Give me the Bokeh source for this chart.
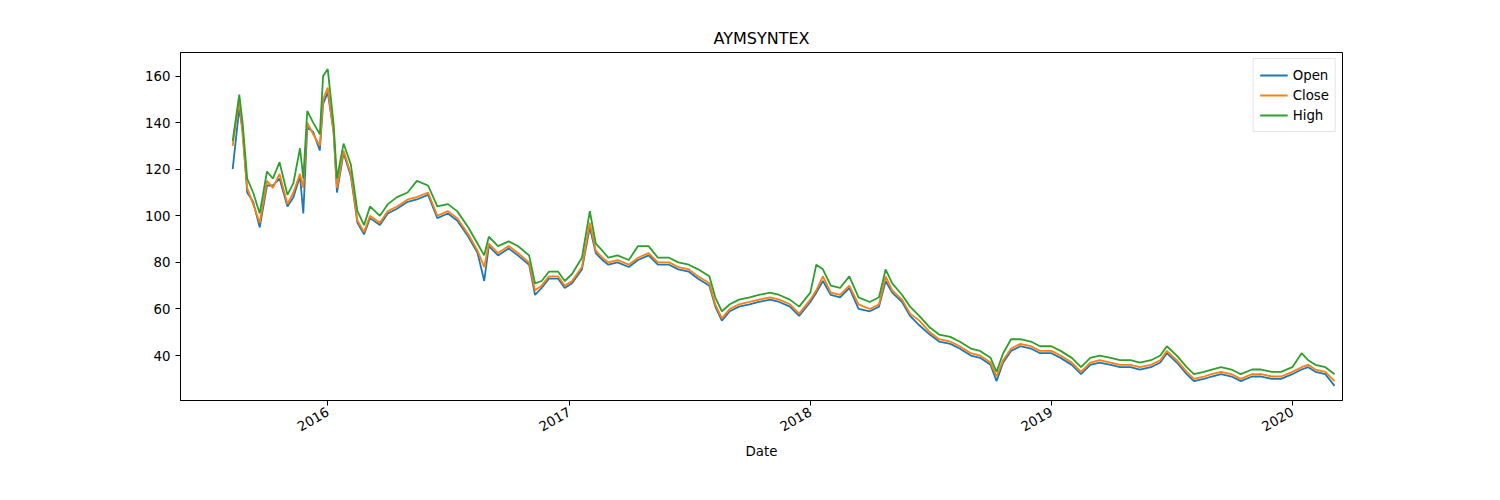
import pandas as pd
from bokeh.plotting import figure
from bokeh.models import FixedTicker, DatetimeTickFormatter, Range1d, Legend, LegendItem
from bokeh.embed import file_html
from bokeh.resources import INLINE

dates = [
    "2015-08-10", "2015-08-20", "2015-08-25", "2015-09-01", "2015-09-10", "2015-09-20", "2015-10-01", "2015-10-10", "2015-10-20", "2015-11-01",
    "2015-11-10", "2015-11-20", "2015-11-25", "2015-12-01", "2015-12-10", "2015-12-20", "2015-12-25", "2016-01-01", "2016-01-10", "2016-01-15",
    "2016-01-25", "2016-02-05", "2016-02-15", "2016-02-25", "2016-03-05", "2016-03-20", "2016-04-01", "2016-04-15", "2016-05-01", "2016-05-15",
    "2016-06-01", "2016-06-15", "2016-07-01", "2016-07-15", "2016-08-01", "2016-08-15", "2016-08-25", "2016-09-01", "2016-09-15", "2016-10-01",
    "2016-10-15", "2016-11-01", "2016-11-10", "2016-11-20", "2016-12-01", "2016-12-15", "2016-12-25", "2017-01-05", "2017-01-20", "2017-02-01",
    "2017-02-10", "2017-02-20", "2017-03-01", "2017-03-15", "2017-04-01", "2017-04-15", "2017-05-01", "2017-05-15", "2017-06-01", "2017-06-15",
    "2017-07-01", "2017-07-15", "2017-08-01", "2017-08-10", "2017-08-20", "2017-09-01", "2017-09-15", "2017-10-01", "2017-10-15", "2017-11-01",
    "2017-11-15", "2017-12-01", "2017-12-15", "2018-01-01", "2018-01-10", "2018-01-20", "2018-02-01", "2018-02-15", "2018-03-01", "2018-03-15",
    "2018-04-01", "2018-04-15", "2018-04-25", "2018-05-05", "2018-05-20", "2018-06-01", "2018-06-15", "2018-07-01", "2018-07-15", "2018-08-01",
    "2018-08-15", "2018-09-01", "2018-09-15", "2018-10-01", "2018-10-10", "2018-10-20", "2018-11-01", "2018-11-15", "2018-12-01", "2018-12-15",
    "2019-01-01", "2019-01-15", "2019-02-01", "2019-02-15", "2019-03-01", "2019-03-15", "2019-04-01", "2019-04-15", "2019-05-01", "2019-05-15",
    "2019-06-01", "2019-06-15", "2019-06-25", "2019-07-10", "2019-07-25", "2019-08-05", "2019-08-20", "2019-09-01", "2019-09-15", "2019-10-01",
    "2019-10-15", "2019-11-01", "2019-11-15", "2019-12-01", "2019-12-15", "2020-01-01", "2020-01-15", "2020-01-25", "2020-02-05", "2020-02-20",
    "2020-03-05",
]
close = [
    130, 150, 135, 112, 105, 97, 115, 112, 118, 105,
    110, 118, 112, 140, 135, 130, 150, 155, 135, 112,
    128, 118, 98, 93, 100, 97, 102, 104, 107, 108,
    110, 100, 102, 99, 92, 85, 78, 88, 84, 87,
    84, 80, 68, 70, 74, 74, 70, 72, 78, 97,
    85, 82, 80, 81, 79, 82, 84, 80, 80, 78,
    77, 74, 71, 62, 56, 60, 62, 63, 64, 65,
    64, 62, 58, 64, 68, 74, 67, 66, 70, 62,
    60, 62, 74, 68, 64, 58, 55, 50, 47, 46,
    44, 41, 40, 37, 31, 38, 43, 45, 44, 42,
    42, 40, 37, 33, 37, 38, 37, 36, 36, 35,
    36, 38, 42, 38, 33, 30, 31, 32, 33, 32,
    30, 32, 32, 31, 31, 33, 35, 36, 34, 33,
    29,
]
open_ = [
    120, 146, 137, 110, 106, 95, 113, 113, 116, 104,
    108, 117, 101, 138, 136, 128, 148, 153, 136, 110,
    127, 117, 97, 92, 99, 96, 101, 103, 106, 107,
    109, 99, 101, 98, 91, 84, 72, 87, 83, 86,
    83, 79, 66, 69, 73, 73, 69, 71, 77, 95,
    84, 81, 79, 80, 78, 81, 83, 79, 79, 77,
    76, 73, 70, 61, 55, 59, 61, 62, 63, 64,
    63, 61, 57, 63, 67, 72, 66, 65, 69, 60,
    59, 61, 72, 67, 63, 57, 53, 49, 46, 45,
    43, 40, 39, 36, 29, 37, 42, 44, 43, 41,
    41, 39, 36, 32, 36, 37, 36, 35, 35, 34,
    35, 37, 41, 37, 32, 29, 30, 31, 32, 31,
    29, 31, 31, 30, 30, 32, 34, 35, 33, 32,
    27,
]
high = [
    132, 152, 140, 116, 110, 101, 119, 116, 123, 109,
    114, 129, 116, 145, 140, 135, 160, 163, 139, 116,
    131, 122, 102, 96, 104, 100, 105, 108, 110, 115,
    113, 104, 105, 102, 95, 88, 83, 91, 87, 89,
    87, 83, 71, 72, 76, 76, 72, 75, 82, 102,
    88, 85, 82, 83, 81, 87, 87, 82, 82, 80,
    79, 77, 74, 65, 59, 62, 64, 65, 66, 67,
    66, 64, 61, 67, 79, 77, 70, 69, 74, 65,
    63, 65, 77, 71, 66, 61, 57, 52, 49, 48,
    46, 43, 42, 39, 33, 41, 47, 47, 46, 44,
    44, 42, 39, 35, 39, 40, 39, 38, 38, 37,
    38, 40, 44, 40, 35, 32, 33, 34, 35, 34,
    32, 34, 34, 33, 33, 35, 41, 38, 36, 35,
    32,
]

x = pd.to_datetime(dates)

p = figure(width=1484, height=484, x_axis_type="datetime", output_backend="svg",
           toolbar_location=None, title="AYMSYNTEX",
           min_border_left=180, min_border_right=142, min_border_top=52, min_border_bottom=84,
           x_range=Range1d(pd.Timestamp("2015-05-23"), pd.Timestamp("2020-03-17")),
           y_range=Range1d(20.7, 170.1))
p.title.align = "center"
p.title.text_font = "DejaVu Sans"
p.title.text_font_style = "normal"
p.title.text_font_size = "12pt"
p.title.text_color = "black"
p.grid.grid_line_color = None
p.outline_line_color = "black"

r1 = p.line(x, open_, line_color="#1f77b4", line_width=1.8)
r2 = p.line(x, close, line_color="#ff7f0e", line_width=1.8)
r3 = p.line(x, high, line_color="#2ca02c", line_width=1.8)

years = pd.to_datetime(["2016-01-01", "2017-01-01", "2018-01-01", "2019-01-01", "2020-01-01"])
p.xaxis.ticker = FixedTicker(ticks=[t.value / 1e6 for t in years])
p.xaxis.formatter = DatetimeTickFormatter(years="%Y", months="%Y", days="%Y")
p.xaxis.major_label_orientation = 0.52
p.xaxis.minor_tick_line_color = None
p.yaxis.ticker = FixedTicker(ticks=[40, 60, 80, 100, 120, 140, 160])
p.yaxis.minor_tick_line_color = None
p.xaxis.axis_label = "Date"
for ax in (p.xaxis, p.yaxis):
    ax.axis_label_text_font_style = "normal"
    ax.axis_label_text_font = "DejaVu Sans"
    ax.major_label_text_font = "DejaVu Sans"
    ax.major_label_text_font_size = "10pt"
    ax.axis_label_text_font_size = "10pt"
    ax.major_label_text_color = "black"
    ax.axis_label_text_color = "black"
    ax.major_tick_out = 5
    ax.major_tick_in = 0

legend = Legend(items=[LegendItem(label="Open", renderers=[r1]),
                       LegendItem(label="Close", renderers=[r2]),
                       LegendItem(label="High", renderers=[r3])],
                location="top_right", label_text_font="DejaVu Sans",
                label_text_font_size="10pt", label_text_color="black",
                glyph_width=28, spacing=0, margin=6,
                padding=6, label_height=16, border_line_color="#cccccc")
p.add_layout(legend)

open("out.html", "w").write(file_html(p, INLINE))
